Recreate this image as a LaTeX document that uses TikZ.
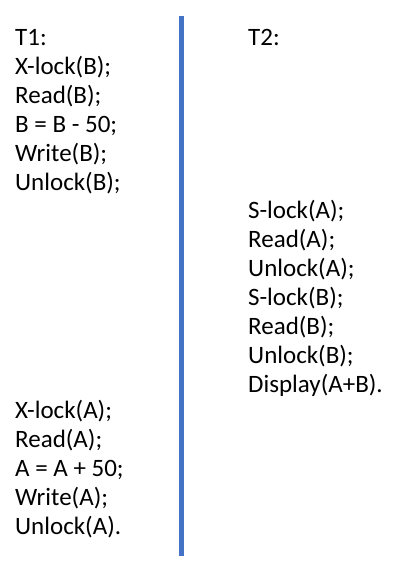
\documentclass[tikz,border=0pt]{standalone}
\usepackage{fontspec}
\setmainfont{Carlito}
\definecolor{sepblue}{HTML}{4472C4}
\begin{document}
\begin{tikzpicture}[x=1pt,y=-1pt,
  code/.style={anchor=base west,inner sep=0pt,font=\fontsize{25}{29}\selectfont},
  sep/.style={line width=5pt,draw=sepblue}]
\useasboundingbox[fill=white] (0,0) rectangle (408,573);
% T1
\node[code] (a0) at (15,45) {T1:};
\node[code] (a1) at (15,74) {X-lock(B);};
\node[code] (a2) at (15,103) {Read(B);};
\node[code] (a3) at (15,132) {B = B - 50;};
\node[code] (a4) at (15,161) {Write(B);};
\node[code] (a5) at (15,190) {Unlock(B);};
\node[code] (a6) at (15,418) {X-lock(A);};
\node[code] (a7) at (15,447) {Read(A);};
\node[code] (a8) at (15,476) {A = A + 50;};
\node[code] (a9) at (15,505) {Write(A);};
\node[code] (a10) at (15,534) {Unlock(A).};
% T2
\node[code] (b0) at (248,45) {T2:};
\node[code] (b1) at (248,218) {S-lock(A);};
\node[code] (b2) at (248,247) {Read(A);};
\node[code] (b3) at (248,276) {Unlock(A);};
\node[code] (b4) at (248,305) {S-lock(B);};
\node[code] (b5) at (248,334) {Read(B);};
\node[code] (b6) at (248,363) {Unlock(B);};
\node[code] (b7) at (248,392) {Display(A+B).};
% separator
\coordinate (top) at (181.5,16);
\coordinate (bot) at (181.5,556);
\draw[sep] (top) -- (bot);
\end{tikzpicture}
\end{document}
